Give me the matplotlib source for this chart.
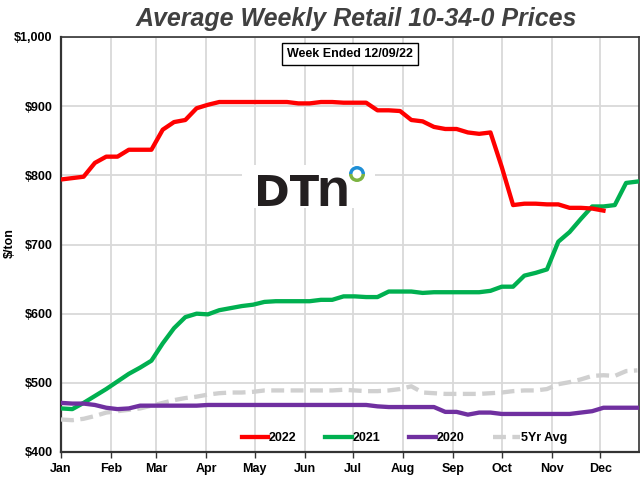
import numpy as np
import matplotlib
matplotlib.use("Agg")
import matplotlib.pyplot as plt
from matplotlib.patches import Rectangle, Wedge
from matplotlib.transforms import IdentityTransform
from matplotlib.ticker import FuncFormatter

plt.rcParams['font.family'] = ['Liberation Sans', 'DejaVu Sans']

months = ['Jan', 'Feb', 'Mar', 'Apr', 'May', 'Jun', 'Jul', 'Aug', 'Sep', 'Oct', 'Nov', 'Dec']
month_start_days = [0, 31, 59, 90, 120, 151, 181, 212, 243, 273, 304, 334]

y2022 = [794, 796, 798, 818, 827, 827, 837, 837, 837, 866, 877, 880, 897, 902, 906, 906,
         906, 906, 906, 906, 906, 904, 904, 906, 906, 905, 905, 905, 894, 894, 893, 880,
         878, 870, 867, 867, 862, 860, 862, 812, 757, 759, 759, 758, 758, 753, 753, 752, 749]
y2021 = [463, 462, 471, 481, 491, 502, 513, 522, 532, 557, 579, 595, 600, 599, 605, 608,
         611, 613, 617, 618, 618, 618, 618, 620, 620, 625, 625, 624, 624, 632, 632, 632,
         630, 631, 631, 631, 631, 631, 633, 639, 639, 655, 659, 664, 704, 718, 737, 755,
         755, 757, 789, 791]
y2020 = [471, 470, 470, 468, 464, 462, 463, 467, 467, 467, 467, 467, 467, 468, 468, 468,
         468, 468, 468, 468, 468, 468, 468, 468, 468, 468, 468, 468, 466, 465, 465, 465,
         465, 465, 458, 458, 454, 457, 457, 455, 455, 455, 455, 455, 455, 455, 457, 459,
         464, 464, 464, 464]
y5yr = [447, 446, 448, 452, 457, 459, 461, 463, 467, 471, 475, 478, 480, 483, 485, 486,
        486, 487, 489, 489, 489, 489, 489, 489, 489, 490, 489, 488, 488, 489, 491, 495,
        486, 485, 484, 484, 484, 484, 485, 486, 488, 489, 489, 491, 498, 501, 505, 510,
        511, 510, 517, 518]

def days(series):
    return np.arange(len(series)) * 7

fig = plt.figure(figsize=(6.4, 4.8), dpi=100)
ax = fig.add_axes([61/640, 28/480, 578/640, 415/480])

grid_c = '#d9d9d9'
ax.set_xlim(0, 358)
ax.set_ylim(400, 1000)
ax.set_xticks(month_start_days)
ax.set_xticklabels(months)
ax.set_yticks(np.arange(400, 1001, 100))
ax.yaxis.set_major_formatter(FuncFormatter(lambda v, p: '${:,.0f}'.format(v)))
ax.grid(True, color=grid_c, linewidth=1.3)
ax.set_axisbelow(True)
for s in ax.spines.values():
    s.set_color('#333333')
    s.set_linewidth(1.2)
ax.spines['left'].set_linewidth(1.6)
ax.spines['bottom'].set_linewidth(1.6)
ax.tick_params(axis='x', length=4, width=1, color='#333333', pad=4, labelsize=9)
ax.tick_params(axis='y', length=0, pad=6, labelsize=9)
for lab in ax.get_xticklabels() + ax.get_yticklabels():
    lab.set_fontweight('bold')

lw = 3.1
ax.plot(days(y5yr), y5yr, color='#d0d0d0', lw=lw, dashes=(3, 1.5), label='5Yr Avg', zorder=3, solid_capstyle='butt')
ax.plot(days(y2021), y2021, color='#00b050', lw=lw, label='2021', zorder=4)
ax.plot(days(y2020), y2020, color='#7030a0', lw=lw, label='2020', zorder=5)
ax.plot(days(y2022), y2022, color='#ff0000', lw=lw, label='2022', zorder=6)

handles, labels = ax.get_legend_handles_labels()
order = [labels.index(l) for l in ['2022', '2021', '2020', '5Yr Avg']]
leg = ax.legend([handles[i] for i in order], [labels[i] for i in order],
                loc='center', bbox_to_anchor=(0.594, 0.034), ncol=4, frameon=False,
                handlelength=2.1, handletextpad=0.1, columnspacing=2.3,
                prop={'weight': 'bold', 'size': 9})

# Title
fig.text(0.557, 1 - 19/480, 'Average Weekly Retail 10-34-0 Prices', ha='center', va='center',
         fontsize=18, fontweight='bold', fontstyle='italic', color='#404040')

# Week ended box
ax.text(0.5, 0.958, 'Week Ended 12/09/22', transform=ax.transAxes, ha='center', va='center',
        fontsize=9, fontweight='bold', color='black', zorder=7,
        bbox=dict(boxstyle='square,pad=0.4', facecolor='white', edgecolor='black', linewidth=1))

# Y label
fig.text(10/640, 1 - 243/480, '$/ton', rotation=90, ha='center', va='center',
         fontsize=9, fontweight='bold')

# DTN logo
ident = IdentityTransform()
H = 480
fig.patches.append(Rectangle((242, H - 208), 133, 43, transform=ident, facecolor='white',
                             edgecolor='none', zorder=2))
fig.text(254 / 640, (H - 206) / H, 'DT', ha='left', va='baseline', fontsize=31,
         fontweight='bold', family='DejaVu Sans', color='#231f20', zorder=3)
fig.text(349 / 640, (H - 206) / H, 'n', ha='right', va='baseline', fontsize=39,
         fontweight='bold', family='Liberation Sans', color='#231f20', zorder=3)
fig.patches.append(Wedge((357, H - 174), 8, 0, 180, width=3.5, transform=ident,
                         facecolor='#1f8fd6', edgecolor='none', zorder=3))
fig.patches.append(Wedge((357, H - 174), 8, 180, 360, width=3.5, transform=ident,
                         facecolor='#7cb342', edgecolor='none', zorder=3))

fig.savefig('out.png', dpi=100)
